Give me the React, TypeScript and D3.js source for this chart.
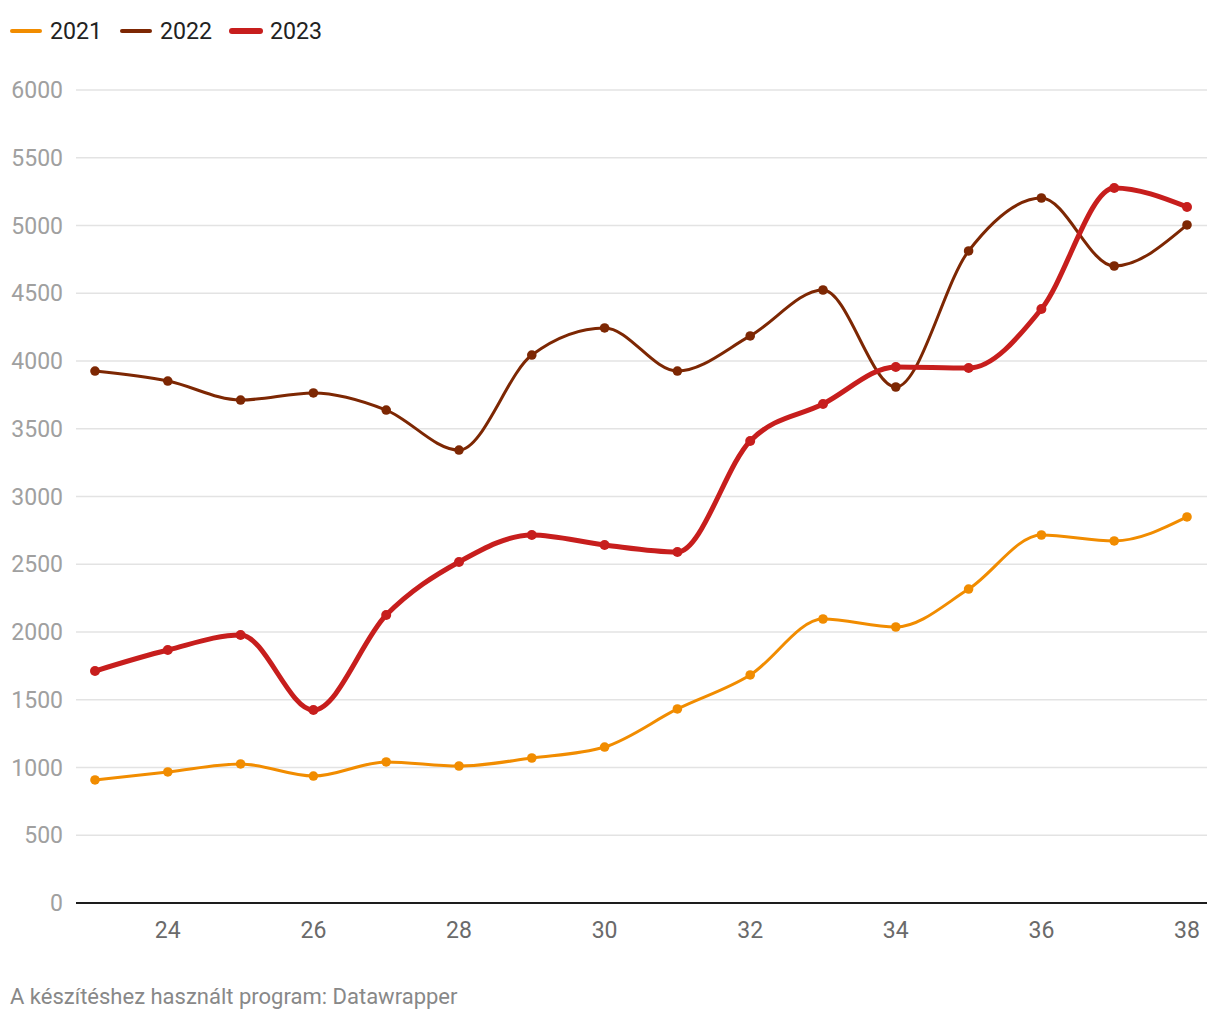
import React from "react";
import * as d3 from "d3";

const weeks = [23, 24, 25, 26, 27, 28, 29, 30, 31, 32, 33, 34, 35, 36, 37, 38];
const values2021 = [908, 967, 1026, 937, 1041, 1011, 1070, 1151, 1432, 1683, 2096, 2037, 2317, 2716, 2672, 2849];
const values2022 = [3926, 3852, 3712, 3764, 3638, 3343, 4044, 4244, 3926, 4185, 4524, 3808, 4812, 5203, 4701, 5004];
const values2023 = [1712, 1867, 1978, 1424, 2125, 2517, 2716, 2642, 2590, 3410, 3683, 3956, 3948, 4384, 5277, 5137];
const yTicks = [0, 500, 1000, 1500, 2000, 2500, 3000, 3500, 4000, 4500, 5000, 5500, 6000];
const xTicks = [24, 26, 28, 30, 32, 34, 36, 38];
const seriesNames = ["2021", "2022", "2023"];
const footer = "A készítéshez használt program: Datawrapper";

const series = [
  { name: seriesNames[0], values: values2021, color: "#f18c00", width: 3, r: 4.8 },
  { name: seriesNames[1], values: values2022, color: "#7d2703", width: 3, r: 4.8 },
  { name: seriesNames[2], values: values2023, color: "#c71e1d", width: 5, r: 5 },
];

export default function App() {
  const W = 1220, H = 1020;
  const x = d3.scaleLinear().domain([23, 38]).range([95, 1187]);
  const y = d3.scaleLinear().domain([0, 6000]).range([903, 90]);
  const line = d3
    .line<number>()
    .x((_, i) => x(weeks[i]))
    .y((d) => y(d))
    .curve(d3.curveMonotoneX);
  const font = "Roboto, 'Noto Sans', sans-serif";
  const legendX = [10, 120, 230];

  return (
    <svg width={W} height={H} style={{ position: "absolute", left: 0, top: 0, background: "#fff" }} fontFamily={font}>
      {yTicks.map((t) => (
        <g key={t}>
          {t !== 0 && <line x1={76} x2={1207} y1={y(t)} y2={y(t)} stroke="#e3e3e3" strokeWidth={1.5} />}
          <text x={63} y={y(t)} dy="0.35em" textAnchor="end" fontSize={23} fill="#a0a0a0">
            {t}
          </text>
        </g>
      ))}
      <line x1={76} x2={1207} y1={y(0)} y2={y(0)} stroke="#1d1d1d" strokeWidth={2} />
      {xTicks.map((t) => (
        <text key={t} x={x(t)} y={930} dy="0.35em" textAnchor="middle" fontSize={23} fill="#6a6a6a">
          {t}
        </text>
      ))}
      {series.map((s) => (
        <g key={s.name}>
          <path d={line(s.values) || ""} fill="none" stroke={s.color} strokeWidth={s.width} strokeLinecap="round" strokeLinejoin="round" />
          {s.values.map((v, i) => (
            <circle key={i} cx={x(weeks[i])} cy={y(v)} r={s.r} fill={s.color} />
          ))}
        </g>
      ))}
      {series.map((s, i) => (
        <g key={s.name}>
          <line x1={legendX[i] + 2} x2={legendX[i] + 30} y1={31} y2={31} stroke={s.color} strokeWidth={s.width === 5 ? 6 : 4} strokeLinecap="round" />
          <text x={legendX[i] + 40} y={31} dy="0.35em" fontSize={23.2} fill="#222">
            {s.name}
          </text>
        </g>
      ))}
      <text x={10} y={996} dy="0.35em" fontSize={22} fill="#888">
        {footer}
      </text>
    </svg>
  );
}
